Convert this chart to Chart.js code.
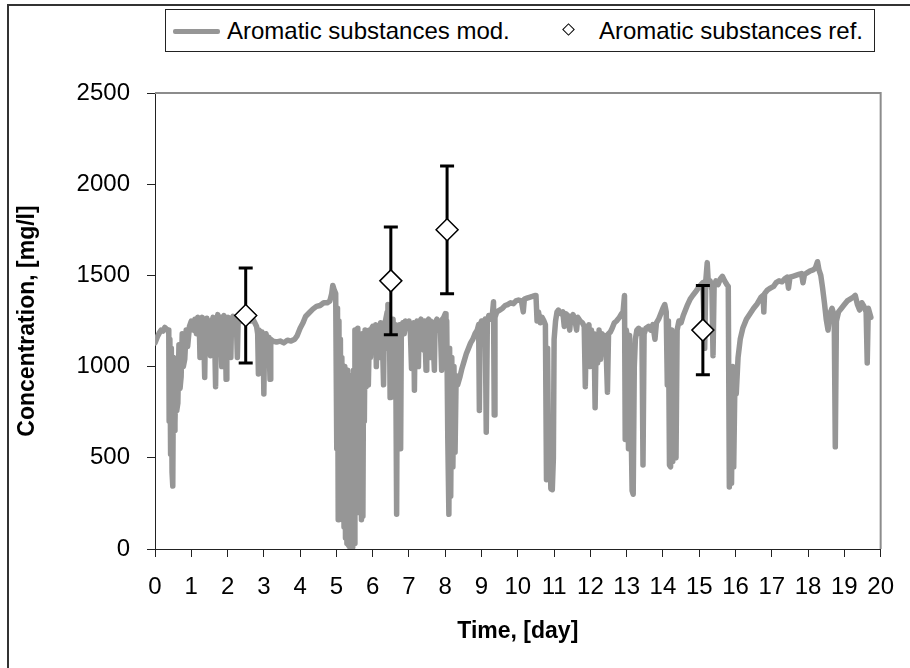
<!DOCTYPE html>
<html>
<head>
    <title>Aromatic substances</title>
    <script src="https://cdn.jsdelivr.net/npm/chart.js"></script>
    <style>
        body { margin: 0; width: 910px; height: 668px; overflow: hidden; background: #fff; position: relative; }
        #frame { position: absolute; left: 7px; top: 4px; width: 2000px; height: 2000px; border-left: 2px solid #333; border-top: 2px solid #333; }
        #myChart { position: absolute; left: 0; top: 0; }
        #legend { position: absolute; left: 165px; top: 9px; width: 710px; height: 43px; border: 1px solid #222; box-sizing: border-box;
                  font: 24px "Liberation Sans", Arial, sans-serif; color: #000; background: #fff; }
        #legend .swatch { position: absolute; left: 7px; top: 19px; width: 47px; height: 5px; background: #969696; border-radius: 2px; }
        #legend .lbl { position: absolute; top: 0; line-height: 41px; white-space: nowrap; }
        #lbl1 { left: 61px; }
        #lbl2 { right: 11px; }
        #legend .diamond { position: absolute; left: 398px; top: 15px; width: 7px; height: 7px; border: 1.4px solid #000; transform: rotate(45deg); }
    </style>
</head>
<body>
    <div id="frame"></div>
    <canvas id="myChart" width="910" height="668"></canvas>
    <div id="legend">
        <span class="swatch"></span><span class="lbl" id="lbl1"></span>
        <span class="diamond"></span><span class="lbl" id="lbl2"></span>
    </div>
    <script>
        const seriesNames = ['Aromatic substances mod.', 'Aromatic substances ref.'];

        // measured reference values with their error
        const refTime = [2.5, 6.5, 8.05, 15.1];
        const refConc = [1280, 1470, 1750, 1200];
        const refErr = [260, 295, 350, 245];

        // model curve, [time (day), concentration (mg/l)]
        const modelPoints = [
            [0,1130],[0.04,1150],[0.08,1170],[0.12,1185],[0.17,1200],[0.22,1195],[0.27,1215],[0.32,1205],[0.36,1200],
            [0.38,1180],[0.39,700],[0.41,1150],[0.43,520],[0.45,1100],[0.47,420],[0.49,345],[0.51,1050],[0.53,650],
            [0.55,690],[0.58,980],[0.6,760],[0.63,800],[0.66,1120],[0.69,880],[0.72,945],[0.75,1180],[0.78,1000],
            [0.82,1040],[0.86,1200],[0.9,1110],[0.95,1220],
            [1.0,1250],[1.06,1200],[1.1,1260],[1.14,1180],[1.18,1270],[1.22,1230],[1.24,1050],[1.26,1240],[1.3,1270],
            [1.34,1200],[1.37,940],[1.39,1220],[1.43,1265],[1.47,1190],[1.5,1250],[1.53,1060],[1.55,1230],[1.6,1270],
            [1.64,1200],[1.67,890],[1.69,1240],[1.73,1285],[1.77,1220],[1.8,1270],[1.84,1000],[1.86,1260],[1.9,1280],
            [1.94,1200],[1.96,930],[1.98,1230],[2.02,1270],[2.06,1210],[2.09,1050],[2.11,1250],[2.15,1275],[2.2,1230],
            [2.24,1260],[2.27,1050],[2.29,1240],[2.34,1270],[2.4,1250],[2.46,1265],[2.52,1250],[2.58,1270],[2.64,1250],
            [2.7,1260],[2.75,1240],
            [2.8,1220],[2.83,1180],[2.85,960],[2.87,1200],[2.9,1150],[2.93,1100],[2.95,1190],[2.98,1160],[3.0,850],
            [3.02,1150],[3.06,1180],[3.1,1140],[3.14,1160],[3.17,930],[3.19,1150],[3.25,1140],
            [3.35,1135],[3.45,1140],[3.55,1130],[3.65,1145],[3.75,1140],[3.85,1150],[3.92,1170],[4.0,1210],[4.08,1240],
            [4.15,1275],[4.25,1295],[4.35,1315],[4.45,1330],[4.55,1335],[4.65,1350],[4.75,1350],[4.82,1360],[4.87,1400],
            [4.9,1445],[4.94,1420],[4.98,1400],
            [5.01,550],[5.03,1320],[5.05,160],[5.07,1250],[5.09,300],[5.11,1150],[5.13,180],[5.15,1050],[5.17,160],
            [5.19,980],[5.21,120],[5.23,1000],[5.25,60],[5.27,850],[5.29,30],[5.31,980],[5.33,20],[5.35,700],[5.37,10],
            [5.39,950],[5.41,15],[5.43,500],[5.45,10],[5.47,980],[5.49,30],[5.51,1200],[5.53,220],[5.55,1180],[5.57,250],
            [5.59,1210],[5.61,200],[5.63,1150],[5.65,210],[5.67,1000],[5.69,160],[5.71,1180],[5.73,180],[5.75,1100],
            [5.77,700],[5.79,1200],[5.82,890],[5.85,1170],[5.88,900],[5.91,1200],[5.94,1050],[5.97,1210],
            [6.0,1220],[6.04,1100],[6.08,1230],[6.1,1000],[6.12,1220],[6.16,1180],[6.2,1050],[6.22,1240],[6.26,1200],
            [6.3,900],[6.32,1220],[6.36,1260],[6.4,1300],[6.42,1340],[6.44,1100],[6.46,1280],[6.48,830],[6.5,1250],
            [6.53,1000],[6.56,1260],[6.6,1050],[6.63,1230],[6.66,190],[6.68,1200],[6.71,1000],[6.74,1230],[6.77,550],
            [6.79,1210],[6.83,1240],[6.87,1180],[6.9,1250],
            [6.95,1230],[7.0,1250],[7.04,1180],[7.07,990],[7.09,1230],[7.13,1240],[7.15,870],[7.17,1220],[7.22,1250],
            [7.26,1000],[7.28,1240],[7.33,1260],[7.38,1200],[7.41,1090],[7.43,1250],[7.47,980],[7.49,1240],[7.54,1260],
            [7.58,1050],[7.6,1250],[7.65,1230],[7.7,980],[7.72,1240],[7.77,1260],[7.82,1200],[7.86,1250],[7.9,980],
            [7.92,1260],[7.96,1270],
            [8.0,1290],[8.02,1000],[8.04,1250],[8.07,600],[8.1,190],[8.12,1100],[8.15,290],[8.18,1050],[8.21,450],
            [8.24,1000],[8.27,530],[8.3,950],[8.34,900],[8.4,940],[8.46,990],[8.52,1030],[8.58,1070],[8.64,1100],
            [8.7,1130],[8.76,1150],[8.82,1180],[8.88,1200],[8.92,1230],[8.94,760],[8.96,1220],[9.0,1250],
            [9.05,1230],[9.1,1260],[9.13,640],[9.16,1250],[9.2,1280],[9.25,1260],[9.3,1290],[9.33,1355],[9.35,735],
            [9.37,1270],[9.42,1300],[9.5,1310],[9.58,1320],[9.65,1335],[9.72,1340],[9.8,1350],[9.88,1345],[9.95,1360],
            [10.02,1365],[10.1,1360],[10.15,1300],[10.18,1370],[10.25,1375],[10.32,1380],[10.4,1385],[10.47,1390],
            [10.5,1390],[10.53,1250],[10.57,1300],[10.62,1240],[10.67,1270],[10.72,1250],[10.76,1230],[10.79,380],
            [10.82,1100],[10.85,400],[10.88,600],[10.91,330],[10.95,325],[10.98,500],[11.0,1150],[11.04,1250],
            [11.08,1300],[11.12,1310],
            [11.18,1290],[11.24,1300],[11.28,1220],[11.32,1290],[11.38,1280],[11.43,1200],[11.46,1270],[11.52,1285],
            [11.57,1260],[11.62,1200],[11.65,1270],[11.72,1250],[11.78,1240],
            [11.83,1220],[11.86,890],[11.89,1210],[11.93,1040],[11.96,1230],[12.0,1000],[12.03,1200],[12.07,1050],
            [12.1,1180],[12.13,775],[12.16,1160],[12.2,1020],[12.24,1200],[12.28,1040],[12.32,1180],[12.36,1080],
            [12.4,1170],[12.44,1050],[12.47,860],[12.5,1180],[12.55,1190],[12.6,1210],[12.66,1240],[12.72,1250],
            [12.8,1270],[12.86,1290],
            [12.9,1300],[12.94,1390],[12.96,600],[12.99,1200],[13.02,1150],[13.05,550],[13.08,1170],[13.12,700],
            [13.15,320],[13.18,300],[13.21,1000],[13.24,1150],[13.28,1200],
            [13.33,1210],[13.38,1180],[13.42,1200],[13.45,460],[13.48,1180],[13.53,1210],[13.6,1220],[13.66,1200],
            [13.72,1230],[13.78,1150],[13.82,1240],[13.88,1260],[13.94,1290],[14.0,1320],[14.05,1340],[14.09,1300],
            [14.12,900],[14.15,1250],[14.18,460],[14.21,450],[14.24,1200],[14.27,480],[14.3,1100],[14.33,520],
            [14.36,500],[14.39,1200],[14.44,1250],
            [14.5,1240],[14.56,1280],[14.62,1310],[14.68,1340],[14.75,1370],[14.82,1390],[14.9,1410],[14.97,1430],
            [15.03,1445],[15.1,1460],[15.15,1100],[15.18,1470],[15.22,1570],[15.25,1460],[15.3,1470],[15.35,1420],
            [15.38,1060],[15.41,1440],[15.46,1470],[15.52,1450],[15.58,1480],[15.64,1495],[15.7,1470],[15.76,1450],
            [15.8,1440],
            [15.83,340],[15.86,800],[15.89,360],[15.92,1000],[15.95,450],[15.98,870],[16.02,850],[16.07,1050],
            [16.13,1150],[16.2,1210],[16.3,1260],[16.4,1290],[16.5,1320],[16.6,1345],[16.7,1380],[16.76,1390],
            [16.78,1300],[16.8,1400],[16.88,1420],[16.96,1430],
            [17.05,1440],[17.12,1460],[17.2,1470],[17.28,1465],[17.35,1480],[17.42,1490],[17.46,1430],[17.5,1490],
            [17.58,1495],[17.66,1500],[17.74,1505],[17.82,1510],[17.86,1460],[17.9,1505],[17.98,1515],[18.06,1525],
            [18.14,1530],[18.2,1540],[18.26,1575],[18.3,1530],
            [18.35,1500],[18.4,1430],[18.45,1350],[18.5,1260],[18.55,1200],[18.6,1290],[18.66,1320],[18.72,1280],
            [18.75,560],[18.78,1250],[18.84,1300],[18.92,1320],[19.0,1340],[19.08,1360],[19.16,1370],[19.24,1380],
            [19.3,1390],[19.36,1340],[19.42,1310],[19.48,1350],[19.54,1330],[19.6,1300],[19.63,1020],[19.66,1320],
            [19.73,1270]
        ];

        document.getElementById('lbl1').textContent = seriesNames[0];
        document.getElementById('lbl2').textContent = seriesNames[1];

        Chart.defaults.font.family = '"Liberation Sans", Arial, sans-serif';
        Chart.defaults.color = '#000';

        // error bars drawn just before the reference diamonds
        const errorBars = {
            id: 'errorBars',
            beforeDatasetDraw(chart, args) {
                if (args.index !== 1) return;
                const ctx = chart.ctx;
                const x = chart.scales.x;
                const y = chart.scales.y;
                ctx.save();
                ctx.strokeStyle = '#000';
                ctx.lineWidth = 3;
                refTime.forEach((t, i) => {
                    const px = x.getPixelForValue(t);
                    const top = y.getPixelForValue(refConc[i] + refErr[i]);
                    const bot = y.getPixelForValue(refConc[i] - refErr[i]);
                    ctx.beginPath();
                    ctx.moveTo(px, top);
                    ctx.lineTo(px, bot);
                    ctx.moveTo(px - 7, top);
                    ctx.lineTo(px + 7, top);
                    ctx.moveTo(px - 7, bot);
                    ctx.lineTo(px + 7, bot);
                    ctx.stroke();
                });
                ctx.restore();
            }
        };

        // grey top and right edges of the plot area
        const plotFrame = {
            id: 'plotFrame',
            afterDraw(chart) {
                const {ctx, chartArea} = chart;
                ctx.save();
                ctx.strokeStyle = '#8c8c8c';
                ctx.lineWidth = 2;
                ctx.beginPath();
                ctx.moveTo(chartArea.left, chartArea.top);
                ctx.lineTo(chartArea.right, chartArea.top);
                ctx.lineTo(chartArea.right, chartArea.bottom);
                ctx.stroke();
                ctx.restore();
            }
        };

        const ctx = document.getElementById('myChart').getContext('2d');
        new Chart(ctx, {
            type: 'scatter',
            data: {
                datasets: [
                    {
                        label: seriesNames[0],
                        data: modelPoints.map(p => ({x: p[0], y: p[1]})),
                        showLine: true,
                        borderColor: '#969696',
                        borderWidth: 5.5,
                        borderJoinStyle: 'round',
                        borderCapStyle: 'round',
                        pointRadius: 0,
                        tension: 0,
                        order: 2
                    },
                    {
                        label: seriesNames[1],
                        data: refTime.map((t, i) => ({x: t, y: refConc[i]})),
                        pointStyle: 'rectRot',
                        pointRadius: 11,
                        backgroundColor: '#fff',
                        borderColor: '#000',
                        borderWidth: 1.5,
                        order: 1
                    }
                ]
            },
            options: {
                responsive: false,
                animation: false,
                layout: { padding: { top: 93, right: 22, left: 0, bottom: 0 } },
                plugins: { legend: { display: false }, tooltip: { enabled: false } },
                scales: {
                    x: {
                        type: 'linear',
                        min: 0,
                        max: 20,
                        ticks: { stepSize: 1, autoSkip: false, maxRotation: 0, padding: 16, font: { size: 24 } },
                        grid: { drawOnChartArea: false, tickLength: 8, color: '#222' },
                        border: { color: '#222', width: 1 },
                        title: { display: true, text: 'Time, [day]', font: { size: 23, weight: 'bold' }, padding: { top: 0, bottom: 23 } },
                        afterFit: scale => { scale.height = 119; }
                    },
                    y: {
                        min: 0,
                        max: 2500,
                        ticks: { stepSize: 500, padding: 17, font: { size: 24 }, callback: v => String(v) },
                        grid: { drawOnChartArea: false, tickLength: 8, color: '#222' },
                        border: { color: '#222', width: 1 },
                        title: { display: true, text: 'Concentration, [mg/l]', font: { size: 23, weight: 'bold' }, padding: { top: 14, bottom: 0 } },
                        afterFit: scale => { scale.width = 155; }
                    }
                }
            },
            plugins: [errorBars, plotFrame]
        });
    </script>
</body>
</html>
